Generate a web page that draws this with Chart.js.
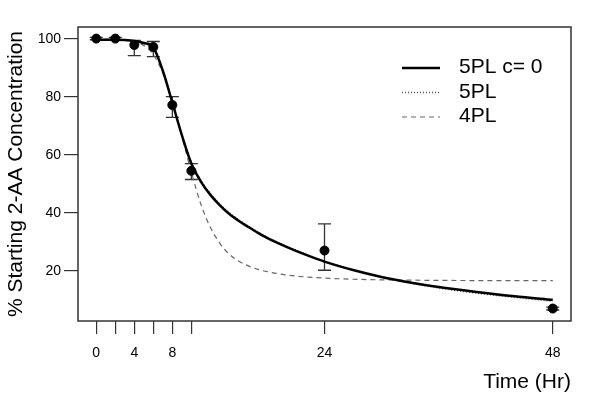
<!DOCTYPE html>
<html>
<head>
<meta charset="utf-8">
<script src="https://cdn.jsdelivr.net/npm/chart.js@4"></script>
<style>
  html, body { margin: 0; background: #fff; }
</style>
</head>
<body>
<canvas id="chart" width="600" height="400"></canvas>
<script>
// observed means with error bars
const obsTime = [0, 2, 4, 6, 8, 10, 24, 48];
const obsMean = [100.1, 100.1, 97.9, 97.2, 77.2, 54.5, 27.0, 7.0];
const obsLow  = [99.7, 99.7, 94.2, 93.9, 72.9, 51.5, 20.2, 6.5];
const obsHigh = [100.5, 100.5, 99.5, 99.1, 80.1, 57.0, 36.2, 7.5];

// fitted curves
const fitTime  = [0, 1, 2, 3, 4, 5, 6, 7, 8, 9, 10, 11, 12, 13, 14, 15, 16, 17, 18, 20, 22, 24, 27, 30, 33, 36, 40, 44, 48];
const fit5plC0 = [99.7, 99.7, 99.7, 99.6, 99.3, 98.6, 97.0, 89.0, 78.0, 66.8, 57.0, 50.8, 46.2, 42.6, 39.6, 37.2, 35.1, 33.1, 31.3, 28.3, 25.6, 23.2, 20.3, 17.9, 16.0, 14.4, 12.7, 11.2, 10.0];
const fit5pl   = [99.6, 99.6, 99.6, 99.5, 99.2, 98.4, 96.6, 89.0, 78.3, 67.0, 57.4, 51.2, 46.6, 43.0, 40.0, 37.6, 35.4, 33.4, 31.6, 28.5, 25.8, 23.3, 20.3, 17.8, 15.8, 14.1, 12.3, 10.8, 9.5];
const fit4pl   = [99.9, 99.9, 99.8, 99.6, 99.0, 97.7, 94.6, 88.2, 78.5, 66.5, 54.0, 43.0, 35.0, 29.5, 25.7, 23.3, 21.7, 20.5, 19.7, 18.6, 17.9, 17.5, 17.1, 16.9, 16.8, 16.7, 16.65, 16.6, 16.6];

const xTicks = [0, 2, 4, 6, 8, 10, 24, 48];
const xLabelled = [0, 4, 8, 24, 48];
const yTicks = [20, 40, 60, 80, 100];

const FONT = '"Liberation Sans", Arial, sans-serif';
const pts = (xs, ys) => xs.map((x, i) => ({ x: x, y: ys[i] }));

// error bars under the marks
const errorBars = {
  id: 'errorBars',
  beforeDatasetsDraw(chart) {
    const { ctx, scales: { x, y } } = chart;
    ctx.save();
    ctx.strokeStyle = '#333';
    ctx.lineWidth = 1.3;
    obsTime.forEach((t, i) => {
      const px = x.getPixelForValue(t);
      const lo = y.getPixelForValue(obsLow[i]);
      const hi = y.getPixelForValue(obsHigh[i]);
      ctx.beginPath();
      ctx.moveTo(px, lo); ctx.lineTo(px, hi);
      ctx.moveTo(px - 6.5, lo); ctx.lineTo(px + 6.5, lo);
      ctx.moveTo(px - 6.5, hi); ctx.lineTo(px + 6.5, hi);
      ctx.stroke();
    });
    ctx.restore();
  }
};

// box, legend and x title
const decorations = {
  id: 'decorations',
  afterDraw(chart) {
    const { ctx, chartArea: a } = chart;
    ctx.save();
    ctx.strokeStyle = '#333';
    ctx.lineWidth = 1.5;
    ctx.strokeRect(a.left, a.top, a.right - a.left, a.bottom - a.top);

    const lineY = [68, 92.5, 117];
    const textY = [73.3, 97.8, 122.3];
    ctx.font = '21px ' + FONT;
    ctx.textBaseline = 'alphabetic';
    ctx.textAlign = 'left';
    [0, 1, 2].forEach((d, i) => {
      const ds = chart.data.datasets[d];
      ctx.strokeStyle = ds.borderColor;
      ctx.lineWidth = ds.borderWidth;
      ctx.setLineDash(ds.borderDash || []);
      ctx.beginPath();
      ctx.moveTo(402, lineY[i]); ctx.lineTo(440, lineY[i]);
      ctx.stroke();
      ctx.setLineDash([]);
      ctx.fillStyle = '#000';
      ctx.fillText(ds.label, 459, textY[i]);
    });

    ctx.textAlign = 'right';
    ctx.fillText('Time (Hr)', a.right, 387.5);
    ctx.restore();
  }
};

new Chart(document.getElementById('chart'), {
  type: 'line',
  data: {
    datasets: [
      { label: '5PL c= 0', data: pts(fitTime, fit5plC0), borderColor: '#000', borderWidth: 2.5, pointRadius: 0, cubicInterpolationMode: 'monotone', order: 2 },
      { label: '5PL', data: pts(fitTime, fit5pl), borderColor: '#555', borderWidth: 1.5, borderDash: [1, 2], pointRadius: 0, cubicInterpolationMode: 'monotone', order: 3 },
      { label: '4PL', data: pts(fitTime, fit4pl), borderColor: '#666', borderWidth: 1.2, borderDash: [5, 4], pointRadius: 0, cubicInterpolationMode: 'monotone', order: 4 },
      { label: 'obs', type: 'scatter', data: pts(obsTime, obsMean), backgroundColor: '#000', borderColor: '#000', pointRadius: 4.5, showLine: false, order: 1 }
    ]
  },
  options: {
    responsive: false,
    animation: false,
    layout: { padding: { top: 27, right: 29, left: 0, bottom: 0 } },
    plugins: { legend: { display: false }, tooltip: { enabled: false } },
    scales: {
      x: {
        type: 'linear',
        min: -1.92, max: 49.92,
        afterBuildTicks: s => { s.ticks = xTicks.map(v => ({ value: v })); },
        afterFit: s => { s.height = 79; },
        border: { display: false },
        grid: { drawOnChartArea: false, drawTicks: true, tickLength: 13, color: '#333', lineWidth: 1.2 },
        ticks: {
          autoSkip: false, maxRotation: 0, padding: 11, color: '#000',
          font: { family: FONT, size: 14 },
          callback: v => xLabelled.includes(v) ? String(v) : ''
        }
      },
      y: {
        min: 2.7, max: 104.1,
        afterBuildTicks: s => { s.ticks = yTicks.map(v => ({ value: v })); },
        afterFit: s => { s.width = 78; },
        border: { display: false },
        grid: { drawOnChartArea: false, drawTicks: true, tickLength: 14, color: '#333', lineWidth: 1.2 },
        ticks: { padding: 3, color: '#000', font: { family: FONT, size: 14 } },
        title: {
          display: true, text: '% Starting 2-AA Concentration', color: '#000',
          font: { family: FONT, size: 21 }, padding: 4
        }
      }
    }
  },
  plugins: [errorBars, decorations]
});
</script>
</body>
</html>
